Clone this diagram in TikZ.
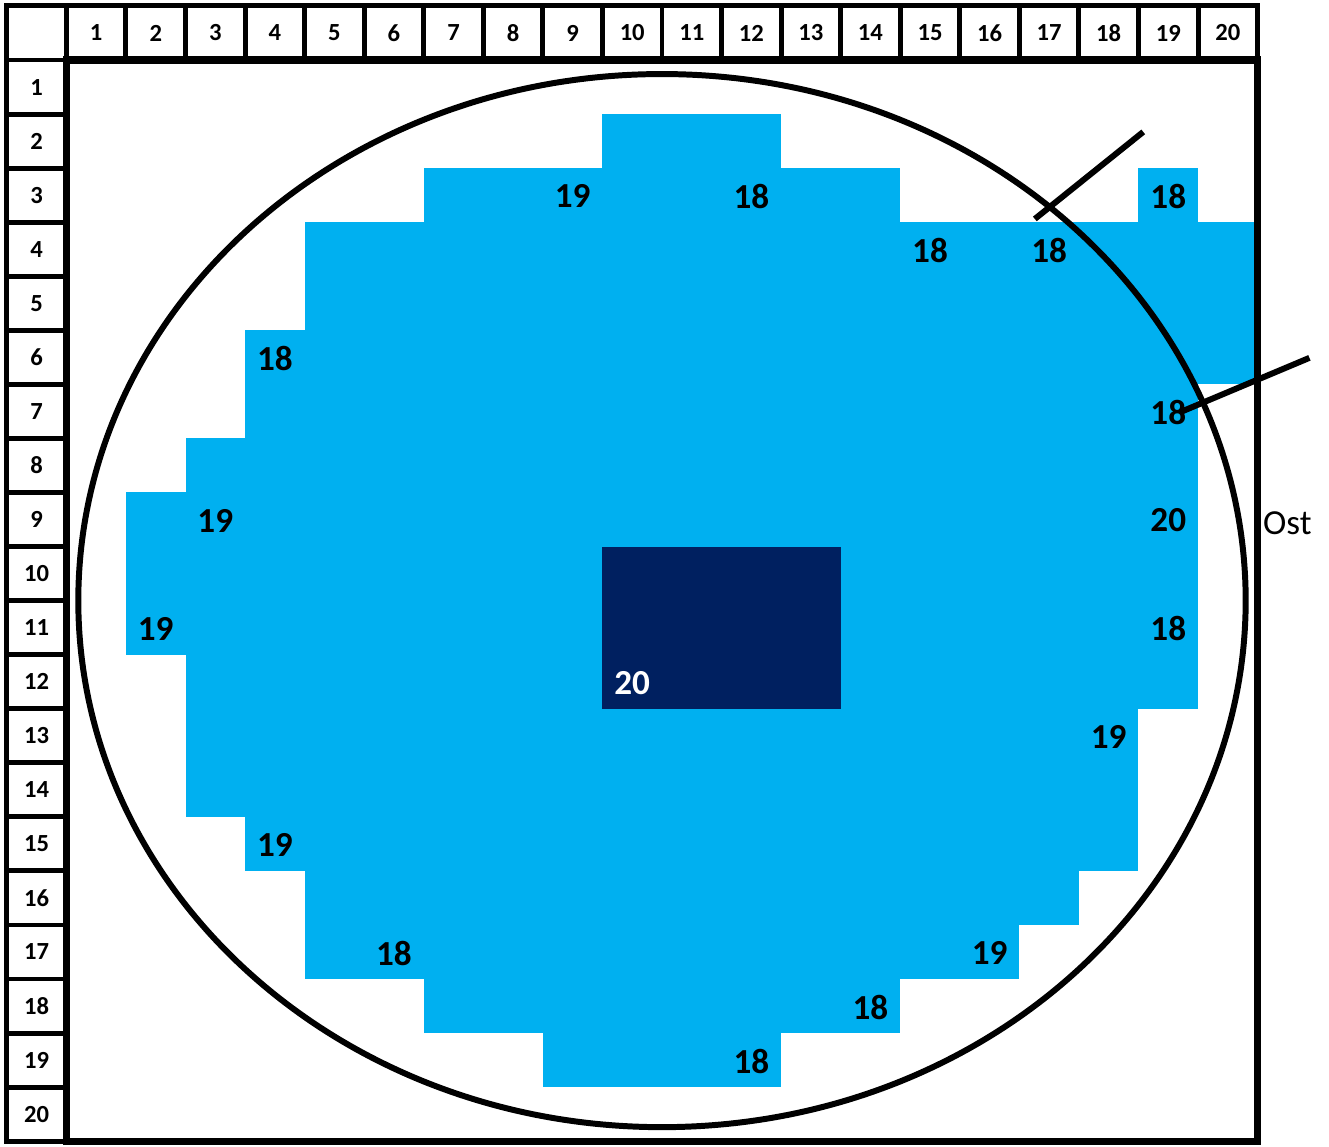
\documentclass[tikz,border=0pt]{standalone}
\usepackage{fontspec}
\setmainfont{Carlito}
\definecolor{sky}{RGB}{0,176,240}
\definecolor{deep}{RGB}{0,32,96}

\begin{document}
\begin{tikzpicture}[x=1.1912cm,y=-1.0812cm,
  hdr/.style={draw,line width=2.8pt,minimum width=1.1912cm,minimum height=1.0812cm,inner sep=0pt,font=\fontsize{14}{16}\selectfont\bfseries},
  val/.style={inner sep=0pt,font=\fontsize{20}{24}\selectfont\bfseries},
  rim/.style={line width=3.4pt},
  cut/.style={line width=3.4pt}]

\useasboundingbox (-1.1148,-1.1099) rectangle (21.199,20.107);

% warm area, row by row
\foreach \r/\a/\b in {2/10/12, 3/7/14, 3/19/19, 4/5/20, 5/5/20, 6/4/20, 7/4/19,
  8/3/19, 9/2/19, 10/2/19, 11/2/19, 12/3/19, 13/3/18, 14/3/18, 15/4/18,
  16/5/17, 17/5/16, 18/7/14, 19/9/12}
  \fill[sky] (\a-1,\r-1) rectangle (\b,\r);

\fill[deep] (9,9) rectangle (13,12);

\node[val] (t3a) at (8.5,2.52) {19};
\node[val] (t3b) at (11.5,2.52) {18};
\node[val] (t3c) at (18.5,2.52) {18};
\node[val] (t4a) at (14.5,3.52) {18};
\node[val] (t4b) at (16.5,3.52) {18};
\node[val] (t6) at (3.5,5.52) {18};
\node[val] (t7) at (18.5,6.52) {18};
\node[val] (t9a) at (2.5,8.52) {19};
\node[val] (t9b) at (18.5,8.52) {20};
\node[val] (t11a) at (1.5,10.52) {19};
\node[val] (t11b) at (18.5,10.52) {18};
\node[val,text=white] (t12) at (9.5,11.52) {20};
\node[val] (t13) at (17.5,12.52) {19};
\node[val] (t15) at (3.5,14.52) {19};
\node[val] (t17a) at (5.5,16.52) {18};
\node[val] (t17b) at (15.5,16.52) {19};
\node[val] (t18) at (13.5,17.52) {18};
\node[val] (t19) at (11.5,18.52) {18};

\node[font=\fontsize{20}{24}\selectfont] (ost) at (20.5,8.56) {Ost};

\draw[rim] (10,10) ellipse [x radius=9.8, y radius=9.74];

\coordinate (p1) at (16.26,2.94);
\coordinate (p2) at (18.08,1.33);
\coordinate (q1) at (18.71,6.51);
\coordinate (q2) at (20.87,5.51);
\draw[cut] (p1)--(p2);
\draw[cut] (q1)--(q2);

% headers
\node[hdr] (corner) at (-0.5,-0.5) {};
\foreach \i in {1,...,20} {
  \node[hdr] (c\i) at (\i-0.5,-0.5) {\i};
  \node[hdr] (r\i) at (-0.5,\i-0.5) {\i};
}

\draw[line width=4pt] (0,0) rectangle (20,20);

\end{tikzpicture}
\end{document}
